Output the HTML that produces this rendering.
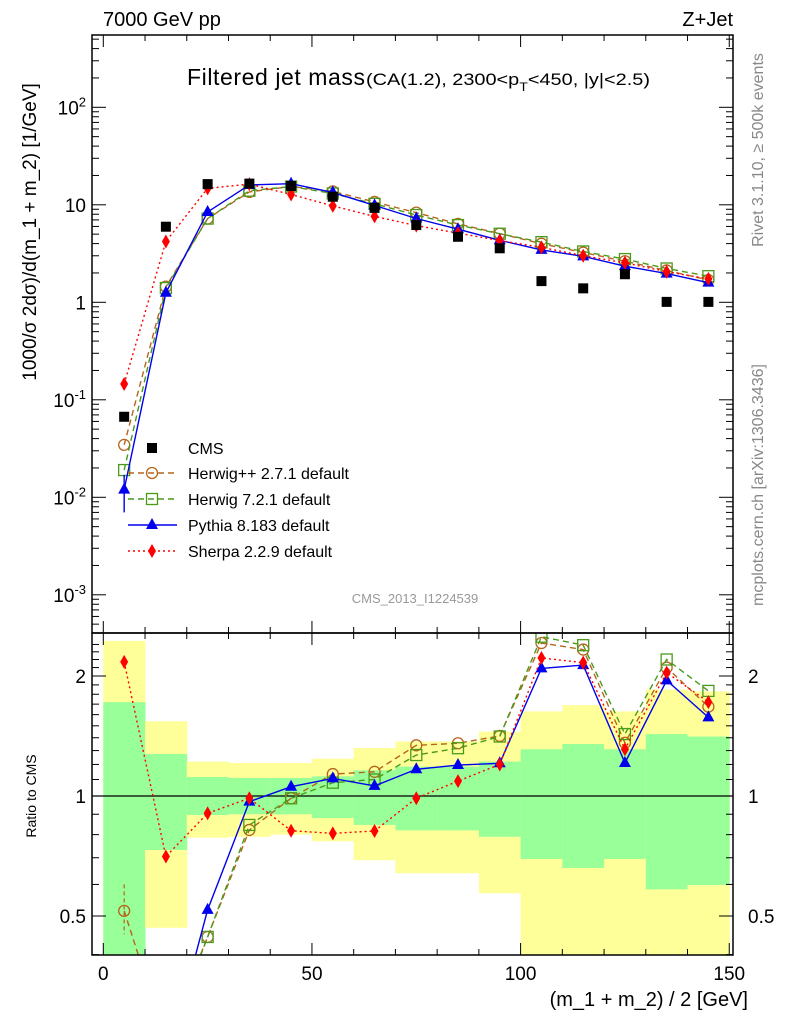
<!DOCTYPE html>
<html><head><meta charset="utf-8"><style>
html,body{margin:0;padding:0;background:#fff;font-family:"Liberation Sans",sans-serif;overflow:hidden;width:786px;height:1024px;}
svg{display:block;}
svg text{font-family:"Liberation Sans",sans-serif;}
</style></head><body>
<svg id="c" width="786" height="1024" xmlns="http://www.w3.org/2000/svg">
<defs>
<clipPath id="cm"><rect x="92" y="35" width="641" height="598"/></clipPath>
<clipPath id="cr"><rect x="92" y="633" width="641" height="322"/></clipPath>
</defs>
<g id="bands" clip-path="url(#cr)"></g>
<g id="grid"></g>
<g id="mainSeries" clip-path="url(#cm)"></g>
<g id="ratioSeries" clip-path="url(#cr)"></g>
<rect x="92" y="35" width="641" height="598" fill="none" stroke="#000" stroke-width="1.5"/>
<rect x="92" y="633" width="641" height="322" fill="none" stroke="#000" stroke-width="1.5"/>
<text x="103" y="26" font-size="20">7000 GeV pp</text>
<text x="733" y="26" font-size="20" text-anchor="end">Z+Jet</text>
<text x="187" y="85" font-size="23" textLength="178">Filtered jet mass</text>
<text x="366" y="85" font-size="17" textLength="284" lengthAdjust="spacingAndGlyphs">(CA(1.2), 2300&lt;p<tspan font-size="12" dy="6">T</tspan><tspan dy="-6">&lt;450, |y|&lt;2.5)</tspan></text>
<text transform="translate(763,150) rotate(-90)" font-size="16" fill="#888" text-anchor="middle">Rivet 3.1.10, ≥ 500k events</text>
<text transform="translate(763,485) rotate(-90)" font-size="16" fill="#888" text-anchor="middle">mcplots.cern.ch [arXiv:1306.3436]</text>
<text transform="translate(36,232) rotate(-90)" font-size="19" text-anchor="middle">1000/σ 2dσ)/d(m_1 + m_2) [1/GeV]</text>
<text transform="translate(36,796) rotate(-90)" font-size="14" text-anchor="middle">Ratio to CMS</text>
<text x="748" y="1006" font-size="20" text-anchor="end">(m_1 + m_2) / 2 [GeV]</text>
<text x="415" y="603" font-size="13" fill="#999" text-anchor="middle">CMS_2013_I1224539</text>
<g id="legend"></g>
</svg>
<script>
const categories=[5,15,25,35,45,55,65,75,85,95,105,115,125,135,145];
const cmsValues=[0.067,5.96,16.3,16.5,15.6,12.1,9.3,6.2,4.7,3.58,1.65,1.39,1.94,1.01,1.01];
const herwigppRatio=[0.515,0.243,0.443,0.822,0.987,1.135,1.15,1.34,1.356,1.415,2.42,2.33,1.36,2.1,1.675];
const herwig7Ratio=[0.284,0.235,0.443,0.846,0.987,1.08,1.10,1.267,1.318,1.41,2.51,2.39,1.43,2.2,1.835];
const pythiaRatio=[0.179,0.21,0.518,0.968,1.055,1.107,1.06,1.167,1.196,1.208,2.09,2.13,1.21,1.95,1.575];
const sherpaRatio=[2.17,0.705,0.905,0.987,0.818,0.806,0.817,0.987,1.09,1.2,2.22,2.16,1.31,2.04,1.72];
const yellowUp=[2.45,1.54,1.22,1.21,1.21,1.24,1.32,1.37,1.37,1.45,1.63,1.69,1.63,1.85,1.83];
const yellowDn=[0.3,0.467,0.786,0.79,0.80,0.77,0.69,0.64,0.64,0.57,0.3,0.3,0.3,0.3,0.3];
const greenUp=[1.72,1.275,1.116,1.11,1.11,1.12,1.16,1.185,1.185,1.22,1.31,1.35,1.31,1.43,1.41];
const greenDn=[0.3,0.732,0.896,0.9,0.9,0.88,0.846,0.82,0.82,0.79,0.695,0.66,0.695,0.583,0.598];
const xTicks=[0,50,100,150];
const mainTickExp=[-3,-2,-1,0,1,2];
const ratioTicks=[0.5,1,2];

const NS="http://www.w3.org/2000/svg";
const X=v=>103.3+v*4.173;
const YM=v=>302.3-97.5*Math.log10(v);
const YR=v=>796-398.6*Math.log10(v);
function mk(tag,attrs,parent){const e=document.createElementNS(NS,tag);for(const k in attrs)e.setAttribute(k,attrs[k]);parent.appendChild(e);return e;}
const gB=document.getElementById('bands'),gG=document.getElementById('grid'),gM=document.getElementById('mainSeries'),gR=document.getElementById('ratioSeries'),gL=document.getElementById('legend');

categories.forEach((c,i)=>{
  let r=mk('rect',{x:X(c-5),y:YR(yellowUp[i]),width:X(c+5)-X(c-5)+0.5,height:YR(yellowDn[i])-YR(yellowUp[i]),fill:'#ffff99'},gB);
  
  
  let g=mk('rect',{x:X(c-5),y:YR(greenUp[i]),width:X(c+5)-X(c-5)+0.5,height:YR(greenDn[i])-YR(greenUp[i]),fill:'#99ff99'},gB);
  
  
});
let one=mk('line',{x1:92,x2:733,y1:YR(1),y2:YR(1),stroke:'#000','stroke-width':1.3},gB);



for(let v=0;v<=150;v+=10){
  const big=v%50===0;const L=big?12:6;
  [[35,1],[633,-1],[633,1],[955,-1]].forEach(([y,d])=>mk('line',{x1:X(v),x2:X(v),y1:y,y2:y+d*L,stroke:'#000'},gG));
}
xTicks.forEach(v=>{const t=mk('text',{x:X(v),y:980,'font-size':19,'text-anchor':'middle'},gG);t.textContent=v;
  
  });
for(let e=-4;e<=3;e++){for(let m=1;m<10;m++){const y=YM(m*Math.pow(10,e));if(y<35||y>633)continue;const L=m===1?14:7;
  mk('line',{x1:92,x2:92+L,y1:y,y2:y,stroke:'#000'},gG);mk('line',{x1:733,x2:733-L,y1:y,y2:y,stroke:'#000'},gG);}}
mainTickExp.forEach(e=>{const y=YM(Math.pow(10,e))+7;const t=mk('text',{x:86,y:y,'font-size':19,'text-anchor':'end'},gG);
  if(e===0)t.textContent='1';else if(e===1)t.textContent='10';else{t.textContent='10';const s=mk('tspan',{'font-size':13,dy:-8},t);s.textContent=e;}
  
  });
for(let v=0.4;v<=2.5;v+=0.1){const y=YR(v);if(y<633||y>955)continue;const big=[0.5,1,2].some(b=>Math.abs(b-v)<1e-6);const L=big?14:7;
  mk('line',{x1:92,x2:92+L,y1:y,y2:y,stroke:'#000'},gG);mk('line',{x1:733,x2:733-L,y1:y,y2:y,stroke:'#000'},gG);}
ratioTicks.forEach(v=>{[[86,'end'],[748,'start']].forEach(([x,a])=>{const t=mk('text',{x:x,y:YR(v)+7,'font-size':19,'text-anchor':a},gG);t.textContent=v;
  
  });});

function marker(kind,x,y,col,p,name){
  let e;
  if(kind==='sq')e=mk('rect',{x:x-5,y:y-5,width:10,height:10,fill:'#000'},p);
  else if(kind==='circ')e=mk('circle',{cx:x,cy:y,r:5.5,fill:'none',stroke:col,'stroke-width':1.3},p);
  else if(kind==='osq')e=mk('rect',{x:x-5.5,y:y-5.5,width:11,height:11,fill:'none',stroke:col,'stroke-width':1.3},p);
  else if(kind==='tri')e=mk('path',{d:`M${x},${y-7}L${x+6},${y+4}L${x-6},${y+4}Z`,fill:col},p);
  else e=mk('path',{d:`M${x},${y-7}L${x+4},${y}L${x},${y+7}L${x-4},${y}Z`,fill:col},p);
  
  
}
const series=[
 {r:herwigppRatio,col:'#b5651d',dash:'6,4',m:'circ',name:'herwigpp'},
 {r:herwig7Ratio,col:'#4a9a1a',dash:'6,4',m:'osq',name:'herwig7'},
 {r:pythiaRatio,col:'#0000ee',dash:'',m:'tri',name:'pythia'},
 {r:sherpaRatio,col:'#ff0000',dash:'2,3',m:'dia',name:'sherpa'}];
series.forEach(s=>{
  const mv=s.r.map((r,i)=>r*cmsValues[i]);
  const pm=categories.map((c,i)=>X(c)+','+YM(mv[i])).join(' ');
  const pr=categories.map((c,i)=>X(c)+','+YR(s.r[i])).join(' ');
  let l1=mk('polyline',{points:pm,fill:'none',stroke:s.col,'stroke-width':1.4,'stroke-dasharray':s.dash},gM);
  
  
  let l2=mk('polyline',{points:pr,fill:'none',stroke:s.col,'stroke-width':1.4,'stroke-dasharray':s.dash},gR);
  
  
  categories.forEach((c,i)=>{marker(s.m,X(c),YM(mv[i]),s.col,gM,s.name+'-point');marker(s.m,X(c),YR(s.r[i]),s.col,gR,s.name+'-ratio-point');});
});
mk('line',{x1:X(5),x2:X(5),y1:YM(0.007),y2:YM(0.017),stroke:'#0000ee','stroke-width':1.4},gM);
mk('line',{x1:X(5),x2:X(5),y1:YR(0.60),y2:YR(0.45),stroke:'#b5651d','stroke-width':1.2,'stroke-dasharray':'4,3'},gR);
categories.forEach((c,i)=>marker('sq',X(c),YM(cmsValues[i]),'#000',gM,'cms-point'));

const leg=[['CMS','sq','#000',''],['Herwig++ 2.7.1 default','circ','#b5651d','6,4'],['Herwig 7.2.1 default','osq','#4a9a1a','6,4'],['Pythia 8.183 default','tri','#0000ee',''],['Sherpa 2.2.9 default','dia','#ff0000','2,3']];
const ly=[448,473,499,525,551];
leg.forEach((e,i)=>{
  if(e[1]!=='sq')mk('line',{x1:128,x2:177,y1:ly[i],y2:ly[i],stroke:e[2],'stroke-width':1.4,'stroke-dasharray':e[3]},gL);
  marker(e[1],152,ly[i],e[2],gL,'legend-marker');
  const t=mk('text',{x:188,y:ly[i]+6,'font-size':16},gL);t.textContent=e[0];
  
  
});
</script>
</body></html>
